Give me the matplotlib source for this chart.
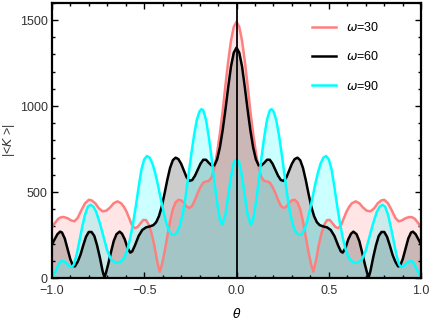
import numpy as np
import matplotlib.pyplot as plt
from matplotlib.ticker import MultipleLocator

plt.rcParams['font.family'] = ['Liberation Sans', 'DejaVu Sans']
plt.rcParams['mathtext.fontset'] = 'dejavusans'

x30 = [0, 0.015, 0.03, 0.045, 0.06, 0.075, 0.09, 0.105, 0.12, 0.135, 0.15, 0.165,
       0.18, 0.195, 0.21, 0.225, 0.24, 0.255, 0.27, 0.285, 0.30, 0.315, 0.33,
       0.345, 0.36, 0.375, 0.39, 0.405, 0.416, 0.43, 0.445, 0.46, 0.475, 0.49,
       0.505, 0.52, 0.535, 0.55, 0.565, 0.58, 0.595, 0.61, 0.625, 0.645, 0.665,
       0.685, 0.705, 0.725, 0.745, 0.765, 0.785, 0.80, 0.82, 0.84, 0.86, 0.878,
       0.895, 0.915, 0.935, 0.95, 0.965, 0.98, 1.0]
y30 = [1490, 1460, 1380, 1260, 1120, 970, 840, 730, 640, 585, 565, 562,
       555, 530, 495, 455, 420, 408, 415, 438, 452, 455, 440,
       400, 330, 240, 150, 75, 37, 100, 190, 260, 310, 337,
       338, 318, 298, 290, 305, 345, 385, 415, 435, 446, 435,
       410, 392, 388, 405, 435, 452, 455, 435, 395, 350, 330,
       335, 348, 355, 354, 345, 325, 295]

x60 = [0, 0.015, 0.03, 0.045, 0.06, 0.075, 0.09, 0.105, 0.12, 0.135, 0.15, 0.165,
       0.18, 0.195, 0.21, 0.225, 0.24, 0.255, 0.27, 0.285, 0.30, 0.315, 0.33,
       0.345, 0.36, 0.375, 0.39, 0.405, 0.42, 0.435, 0.45, 0.47, 0.49, 0.51,
       0.53, 0.55, 0.565, 0.575, 0.59, 0.605, 0.62, 0.633, 0.65, 0.665, 0.68,
       0.695, 0.707, 0.715, 0.725, 0.74, 0.755, 0.77, 0.785, 0.80, 0.815, 0.83,
       0.845, 0.86, 0.875, 0.885, 0.90, 0.915, 0.93, 0.945, 0.955, 0.97, 0.985,
       1.0]
y60 = [1340, 1310, 1230, 1110, 980, 860, 760, 690, 655, 655, 670, 688,
       688, 665, 630, 595, 570, 565, 585, 625, 665, 692, 700,
       685, 640, 570, 490, 415, 360, 325, 308, 300, 295, 280,
       245, 190, 155, 148, 175, 225, 258, 270, 255, 215, 150,
       80, 30, 3, 40, 120, 190, 245, 268, 268, 240, 190,
       135, 95, 68, 70, 110, 170, 230, 265, 270, 255, 225,
       195]

x90 = [0, 0.015, 0.03, 0.045, 0.06, 0.077, 0.09, 0.105, 0.12, 0.135, 0.15, 0.165,
       0.18, 0.19, 0.20, 0.215, 0.23, 0.245, 0.26, 0.275, 0.29, 0.305, 0.32,
       0.335, 0.35, 0.365, 0.38, 0.395, 0.41, 0.425, 0.44, 0.455, 0.47, 0.485,
       0.50, 0.515, 0.53, 0.545, 0.56, 0.575, 0.59, 0.605, 0.62, 0.64, 0.66,
       0.68, 0.70, 0.72, 0.74, 0.76, 0.775, 0.79, 0.805, 0.82, 0.835, 0.85,
       0.865, 0.88, 0.89, 0.905, 0.92, 0.94, 0.955, 0.97, 0.985, 1.0]
y90 = [693, 670, 590, 480, 370, 310, 340, 440, 560, 700, 820, 920,
       975, 982, 970, 920, 830, 720, 600, 480, 380, 310, 270,
       252, 252, 275, 320, 385, 460, 540, 610, 665, 700, 710,
       690, 630, 530, 420, 320, 235, 170, 125, 100, 90, 92,
       110, 160, 240, 320, 385, 415, 426, 415, 370, 300, 220,
       140, 80, 65, 70, 88, 100, 95, 65, 30, 0]


def mirror(xs, ys):
    xs = np.asarray(xs, float)
    ys = np.asarray(ys, float)
    return np.concatenate([-xs[:0:-1], xs]), np.concatenate([ys[:0:-1], ys])


series = [
    (x30, y30, '#ff7f7f', r'$\omega$=30'),
    (x60, y60, '#000000', r'$\omega$=60'),
    (x90, y90, '#00ffff', r'$\omega$=90'),
]

fig = plt.figure(figsize=(4.32, 3.2), dpi=100)
ax = fig.add_axes([0.120, 0.131, 0.855, 0.860])

curves = [mirror(xs, ys) for xs, ys, _, _ in series]
for (xx, yy), (_, _, col, _) in zip(curves, series):
    ax.fill_between(xx, 0, yy, color=col, alpha=0.2, lw=0)
for (xx, yy), (_, _, col, lab) in zip(curves, series):
    ax.plot(xx, yy, color=col, lw=1.8, label=lab, solid_joinstyle='round')

ax.axvline(0, color='black', lw=1.3)

ax.set_xlim(-1, 1)
ax.set_ylim(0, 1600)
ax.xaxis.set_major_locator(MultipleLocator(0.5))
ax.xaxis.set_minor_locator(MultipleLocator(0.1))
ax.yaxis.set_major_locator(MultipleLocator(500))
ax.yaxis.set_minor_locator(MultipleLocator(100))
ax.xaxis.set_major_formatter(lambda v, p: f'{v:.1f}'.replace('-', '\u2212'))
ax.tick_params(which='both', direction='in', top=True, right=True,
               labelsize=9, labelcolor='#333333', width=1.0)
ax.tick_params(axis='x', pad=5)
ax.tick_params(axis='y', pad=3)
ax.tick_params(which='major', length=4)
ax.tick_params(which='minor', length=2.5)
for sp in ax.spines.values():
    sp.set_linewidth(1.6)

ax.set_xlabel(r'$\theta$', fontsize=9, labelpad=7)
ax.set_ylabel(r'|<$K$ >|', fontsize=9, color='#333333', labelpad=2)

ax.legend(loc='upper left', bbox_to_anchor=(0.675, 0.975), frameon=False,
          fontsize=9, handlelength=1.9, handletextpad=0.8, labelspacing=1.3)

fig.savefig('out.png', dpi=100)
